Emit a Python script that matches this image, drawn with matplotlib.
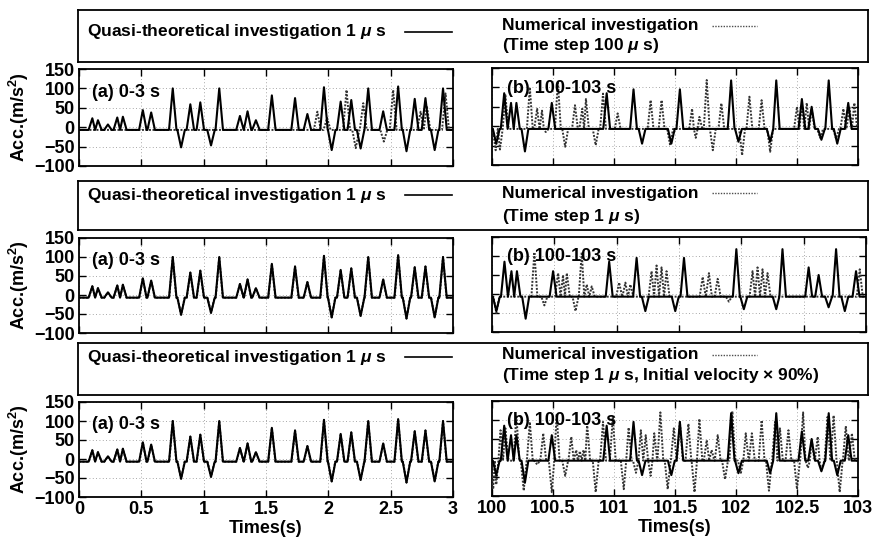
import matplotlib
matplotlib.use("Agg")
import matplotlib.pyplot as plt
import numpy as np

plt.rcParams["font.family"] = ["Liberation Sans", "DejaVu Sans"]
plt.rcParams["font.weight"] = "bold"
plt.rcParams["axes.labelweight"] = "bold"
plt.rcParams["mathtext.fontset"] = "custom"
plt.rcParams["mathtext.rm"] = "Liberation Sans:bold"
plt.rcParams["mathtext.it"] = "Liberation Sans:italic:bold"
plt.rcParams["mathtext.bf"] = "Liberation Sans:bold"

# ---- data: pulse peaks (time s, acceleration m/s^2) ----
# quasi-theoretical 1 us, 0-3 s (same in all three rows)
qt_a_time = [0.107, 0.152, 0.232, 0.307, 0.352, 0.512, 0.579, 0.752, 0.819, 0.893,
             0.973, 1.059, 1.125, 1.291, 1.352, 1.419, 1.547, 1.733, 1.832, 1.965,
             2.027, 2.099, 2.184, 2.259, 2.320, 2.440, 2.560, 2.627, 2.693, 2.779,
             2.853, 2.920]
qt_a_acc = [23, 18, 7, 25, 27, 44, 38, 100, -52, 59,
            64, -47, 100, 29, 41, 18, 82, 75, 34, 103,
            -59, 66, 70, -55, 100, 41, 105, -62, 73, 75,
            -59, 100]

# quasi-theoretical 1 us, 100-103 s
qt_b_time = [100.035, 100.10, 100.156, 100.20, 100.27, 100.49, 100.94, 101.16, 101.23,
             101.47, 101.54, 101.96, 102.02, 102.28, 102.33, 102.54, 102.62, 102.70,
             102.76, 102.83, 102.92]
qt_b_acc = [-45, 85, 60, 60, -65, 60, 85, 95, -45,
            -45, 95, 118, -40, -40, 118, 70, 50, -35,
            118, -45, 60]

# numerical, time step 100 us
num1_a_time = [1.912, 1.990, 2.146, 2.220, 2.280, 2.445, 2.520, 2.740, 2.790, 2.940]
num1_a_acc = [40, 24, 96, -54, 62, -37, 96, 40, 55, 87]
num1_b_time = [100.03, 100.065, 100.11, 100.31, 100.37, 100.41, 100.44, 100.54, 100.60,
               100.68, 100.74, 100.77, 100.85, 100.91, 101.03, 101.30, 101.39, 101.46,
               101.64, 101.67, 101.70, 101.76, 101.81, 101.88, 102.05, 102.11, 102.21,
               102.28, 102.50, 102.54, 102.58, 102.62, 102.69, 102.82, 102.88, 102.93,
               102.97]
num1_b_acc = [-62, -60, 80, 100, 45, 40, -15, 115, -53,
              54, 45, 70, -49, 84, 33, 67, 67, -49,
              45, -30, 24, 119, -62, 59, -75, 76, 67,
              -66, 50, 55, 60, 45, -30, -32, 45, 50,
              60]

# numerical, time step 1 us (0-3 s coincides with quasi-theoretical)
num2_b_time = [100.035, 100.34, 100.42, 100.53, 100.57, 100.60, 100.67, 100.72, 100.76,
               100.80, 101.02, 101.07, 101.11, 101.28, 101.32, 101.36, 101.40, 101.69,
               101.74, 101.81, 101.90, 102.09, 102.13, 102.17, 102.21, 102.95]
num2_b_acc = [-50, 110, -30, 55, 50, 55, -45, 110, 25,
              20, 30, 30, 25, 60, 75, 70, 60, 45,
              55, 40, -20, 60, 70, 65, 55, 65]

# numerical, time step 1 us, initial velocity x 90%
num3_b_time = [100.01, 100.035, 100.07, 100.11, 100.20, 100.26, 100.31, 100.37, 100.42,
               100.49, 100.53, 100.60, 100.65, 100.69, 100.72, 100.75, 100.78, 100.85,
               100.91, 100.99, 101.08, 101.12, 101.18, 101.22, 101.26, 101.30, 101.33,
               101.38, 101.44, 101.49, 101.54, 101.61, 101.66, 101.70, 101.76, 101.80,
               101.85, 101.91, 101.97, 102.04, 102.08, 102.13, 102.21, 102.27, 102.32,
               102.36, 102.43, 102.50, 102.55, 102.59, 102.62, 102.67, 102.70, 102.75,
               102.80, 102.85, 102.90, 102.95]
num3_b_acc = [-82, -70, 73, 78, 112, -86, 95, -17, 65,
              -90, 116, -47, 56, 21, 18, 21, 90, -90,
              95, 108, -82, 80, -39, 73, 60, -47, 65,
              120, -82, 78, 95, 90, -90, 103, 47, 21,
              60, -56, 123, -39, 65, 65, 99, -86, 95,
              78, 73, -82, 120, -26, 47, 56, -34, 108,
              112, -90, 84, 65]

baseline = -7
y_ticks = [-100, -50, 0, 50, 100, 150]
a_ticks = [0, 0.5, 1, 1.5, 2, 2.5, 3]
b_ticks = [100, 100.5, 101, 101.5, 102, 102.5, 103]

MU = "$\\mathit{\\mu}$"
rows = [
    dict(box=(10, 62), ax=(69, 166), b_right=858,
         num_a=(num1_a_time, num1_a_acc), num_b=(num1_b_time, num1_b_acc),
         note=f"(Time step 100 {MU} s)", ty=(0.58, 0.70, 0.32)),
    dict(box=(181, 230), ax=(238, 333), b_right=866,
         num_a=(qt_a_time, qt_a_acc), num_b=(num2_b_time, num2_b_acc),
         note=f"(Time step 1 {MU} s)", ty=(0.71, 0.75, 0.27)),
    dict(box=(343, 395), ax=(402, 497), b_right=858,
         num_a=(qt_a_time, qt_a_acc), num_b=(num3_b_time, num3_b_acc),
         note=f"(Time step 1 {MU} s, Initial velocity \u00d7 90%)", ty=(0.73, 0.77, 0.37)),
]

W, H = 891, 545
fig = plt.figure(figsize=(W / 100, H / 100), dpi=100)


def rect(x0, y0, x1, y1):
    return [x0 / W, 1 - y1 / H, (x1 - x0) / W, (y1 - y0) / H]


def pulse_line(times, accs, half, x0, x1):
    order = np.argsort(times)
    t = np.asarray(times, float)[order]
    a = np.asarray(accs, float)[order]
    xs, ys = [x0], [baseline]
    for i in range(len(t)):
        left = t[i] - half
        if i > 0:
            left = max(left, (t[i - 1] + t[i]) / 2)
        right = t[i] + half
        if i < len(t) - 1:
            right = min(right, (t[i] + t[i + 1]) / 2)
        xs += [left, t[i], right]
        ys += [baseline, a[i], baseline]
    xs.append(x1)
    ys.append(baseline)
    return xs, ys


def style_axes(ax, xticks, show_x, show_y):
    ax.set_ylim(-100, 150)
    ax.set_yticks(y_ticks)
    ax.set_xticks(xticks)
    ax.set_xlim(xticks[0], xticks[-1])
    ax.tick_params(direction="in", top=True, right=True, length=5, width=1,
                   labelsize=13, pad=3)
    ax.tick_params(labelbottom=show_x, labelleft=show_y)
    ax.set_xticklabels([f"{v:g}" for v in xticks])
    ax.grid(True, color="0.55", linestyle=(0, (1, 3)), linewidth=0.6)
    for s in ax.spines.values():
        s.set_linewidth(1.3)


solid_kw = dict(color="black", linewidth=1.5, zorder=4)
dot_kw = dict(color="0.2", linewidth=1.4, linestyle=(0, (1, 0.8)), zorder=3)

for r, row in enumerate(rows):
    last = r == len(rows) - 1
    top, bot = row["ax"]

    # legend box
    lb = fig.add_axes(rect(78, row["box"][0], 868, row["box"][1]))
    lb.set_xticks([])
    lb.set_yticks([])
    for s in lb.spines.values():
        s.set_linewidth(1.3)
    lb.set_xlim(78, 868)
    lb.set_ylim(0, 1)
    y_l, y_r1, y_r2 = row["ty"]
    lb.text(87, y_l, f"Quasi-theoretical investigation 1 {MU} s",
            fontsize=12.5, va="center", ha="left")
    lb.plot([405, 452], [y_l, y_l], color="black", linewidth=1.2)
    lb.text(502, y_r1, "Numerical investigation", fontsize=12.5, va="center", ha="left")
    lb.text(502, y_r2, row["note"], fontsize=12.5, va="center", ha="left")
    lb.plot([712, 757], [y_r1, y_r1], color="0.3", linewidth=1.0, linestyle=(0, (1, 1)))

    # (a) 0-3 s
    ax_a = fig.add_axes(rect(79, top, 453, bot))
    xs, ys = pulse_line(*row["num_a"], 0.028, 0, 3)
    ax_a.plot(xs, ys, **dot_kw)
    xs, ys = pulse_line(qt_a_time, qt_a_acc, 0.03, 0, 3)
    ax_a.plot(xs, ys, **solid_kw)
    style_axes(ax_a, a_ticks, last, True)
    ax_a.text(0.035, 0.76, "(a) 0-3 s", transform=ax_a.transAxes,
              fontsize=13, va="center", ha="left", zorder=5)
    ax_a.set_ylabel("Acc.(m/s$^2$)", fontsize=13)
    ax_a.yaxis.set_label_coords(-0.128, 0.5)
    if last:
        ax_a.set_xlabel("Times(s)", fontsize=13, labelpad=1)

    # (b) 100-103 s
    ax_b = fig.add_axes(rect(492, top - 1, row["b_right"], bot - 1))
    xs, ys = pulse_line(*row["num_b"], 0.024, 100, 103)
    ax_b.plot(xs, ys, **dot_kw)
    xs, ys = pulse_line(qt_b_time, qt_b_acc, 0.028, 100, 103)
    ax_b.plot(xs, ys, **solid_kw)
    style_axes(ax_b, b_ticks, last, False)
    ax_b.text(0.04, 0.79, "(b) 100-103 s", transform=ax_b.transAxes,
              fontsize=13, va="center", ha="left", zorder=5)
    if last:
        ax_b.set_xlabel("Times(s)", fontsize=13, labelpad=1)

fig.savefig("out.png", dpi=100)
